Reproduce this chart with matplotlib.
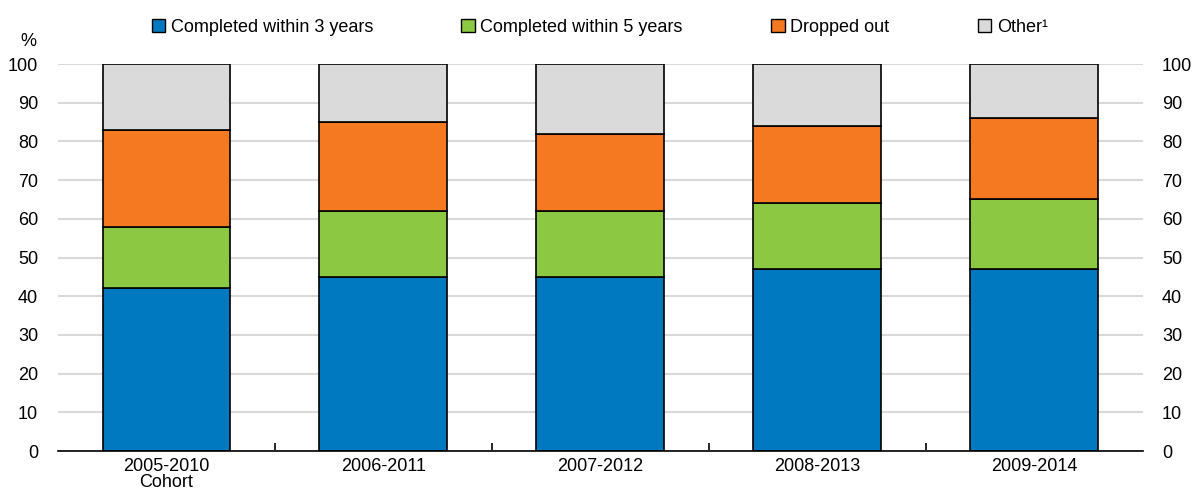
import matplotlib
matplotlib.use("Agg")
import matplotlib.pyplot as plt
import numpy as np
from matplotlib.patches import Patch

plt.rcParams["font.family"] = ["Liberation Sans Narrow", "Liberation Sans", "DejaVu Sans"]

cohorts = ["2005-2010\nCohort", "2006-2011", "2007-2012", "2008-2013", "2009-2014"]
within3 = [42, 45, 45, 47, 47]
within5 = [16, 17, 17, 17, 18]
dropped = [25, 23, 20, 20, 21]
other = [17, 15, 18, 16, 14]

series = [
    ("Completed within 3 years", within3, "#0079C1"),
    ("Completed within 5 years", within5, "#8CC841"),
    ("Dropped out", dropped, "#F47920"),
    ("Other\u00b9", other, "#DADADA"),
]

fs = 13
fig = plt.figure(figsize=(11.92, 4.94), dpi=100)
ax = fig.add_axes([0.0484, 0.087, 0.9102, 0.7834])

x = np.arange(len(cohorts))
bottom = np.zeros(len(cohorts))
for name, vals, col in series:
    ax.bar(x, vals, 0.587, bottom=bottom, color=col, edgecolor="black", linewidth=1.2, zorder=3)
    bottom += np.array(vals)

ax.set_xlim(-0.5, len(cohorts) - 0.5)
ax.set_ylim(0, 100)
ax.set_yticks(range(0, 101, 10))
ax.grid(axis="y", color="#D9D9D9", linewidth=1.5, zorder=0)
for s in ("left", "right", "top"):
    ax.spines[s].set_visible(False)
ax.spines["bottom"].set_linewidth(1.2)
ax.spines["bottom"].set_zorder(4)

ax.set_xticks(x)
ax.set_xticklabels(cohorts, fontsize=fs, linespacing=0.95)
ax.set_xticks(np.arange(0.5, len(cohorts) - 0.5, 1), minor=True)
ax.tick_params(axis="x", which="major", length=0, pad=5)
ax.tick_params(axis="x", which="minor", direction="in", length=6, width=1.2)
ax.tick_params(axis="y", length=0, labelsize=fs, labelright=True, pad=14)

ax.text(-0.027, 1.035, "%", transform=ax.transAxes, fontsize=fs, ha="center", va="bottom")

handles = [Patch(facecolor=c, edgecolor="black", label=n) for n, v, c in series]
fig.legend(handles=handles, loc="center", bbox_to_anchor=(0.503, 0.944), ncol=4, frameon=False,
           fontsize=fs, handlelength=0.75, handleheight=0.75, handletextpad=0.3, columnspacing=4.9)

fig.savefig("out.png", dpi=100)
